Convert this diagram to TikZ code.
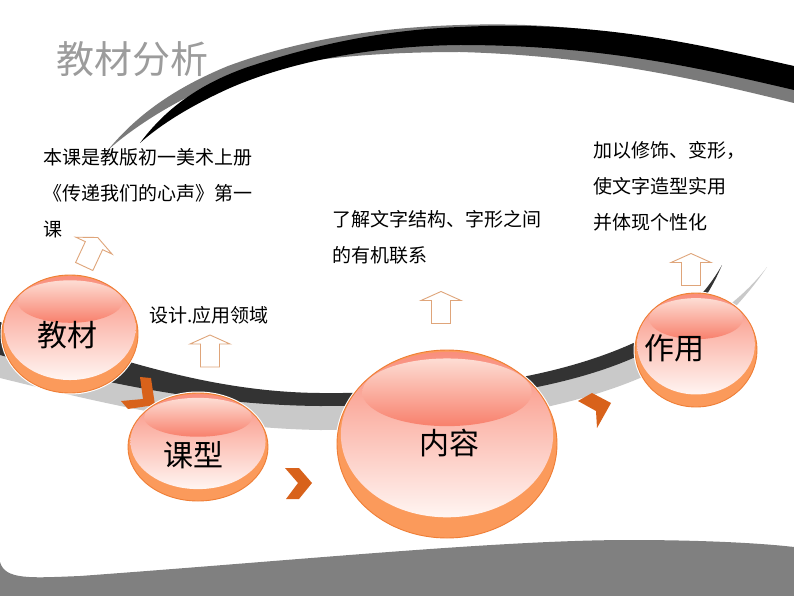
\documentclass[tikz,border=0pt]{standalone}
\usepackage{fontspec}
\newfontfamily\cjk{Noto Sans CJK SC}
\definecolor{rimorange}{HTML}{EF7E36}
\definecolor{crescent}{HTML}{FB9A5B}
\definecolor{salmon}{HTML}{F8806C}
\definecolor{pinklight}{HTML}{FDDDD4}
\definecolor{pinktop}{HTML}{F98E7C}
\definecolor{pinkmid}{HTML}{FBC4B7}
\definecolor{pinkwhite}{HTML}{FFF5F2}
\definecolor{chev}{HTML}{D8621B}
\definecolor{arrowline}{HTML}{DFA57A}
\definecolor{darkband}{HTML}{333333}
\definecolor{lightband}{HTML}{C9C9C9}
\definecolor{wavegray}{HTML}{808080}
\definecolor{ribbongray}{HTML}{7A7A7A}
\definecolor{titlegray}{HTML}{9C9C9C}
\tikzset{
  body/.style={anchor=west, inner sep=0pt, font=\cjk\fontsize{19}{19}\selectfont, text=black},
  orblabel/.style={inner sep=0pt, font=\cjk\fontsize{30}{30}\selectfont, text=black},
  hollow/.style={draw=arrowline, line width=0.9pt, fill=white, line join=miter},
  chevron/.style={fill=chev, draw=none},
}
\newcommand\orb[4]{%
  \begin{scope}[shift={(#1,#2)},xscale=#3,yscale=#4]
    \draw[white, line width=3pt] (0,0) circle [radius=1];
    \fill[crescent] (0,0) circle [radius=1];
    \shade[top color=pinktop, middle color=pinkmid, bottom color=pinkwhite] (0,-0.1) ellipse [x radius=0.965, y radius=0.88];
    \shade[top color=pinklight, bottom color=salmon] (0,-0.55) ellipse [x radius=0.77, y radius=0.36];
    \draw[rimorange, line width=0.9pt] (0,0) circle [radius=1];
  \end{scope}}
\newcommand\uparr[3]{%
  \draw[hollow, shift={(#1,#2)}, rotate=#3] (0,-16) -- (20,-7) -- (9.5,-7) -- (9.5,16) -- (-9.5,16) -- (-9.5,-7) -- (-20,-7) -- cycle;}
\begin{document}
\begin{tikzpicture}[x=1pt,y=-1pt]
\useasboundingbox (0,0) rectangle (794,596);
\fill[white] (0,0) rectangle (794,596);

% top ribbon: gray part
\fill[ribbongray] (108,150) .. controls (135,117) and (172,89) .. (228,66)
  .. controls (285,45) and (360,28) .. (460,25)
  .. controls (600,20) and (700,48) .. (794,70) -- (794,103)
  .. controls (700,80) and (600,56) .. (460,52)
  .. controls (380,52) and (300,58) .. (240,75)
  .. controls (180,95) and (130,130) .. (108,150) -- cycle;
% top ribbon: black part
\fill[black] (140,143) .. controls (163,112) and (195,86) .. (245,68)
  .. controls (310,46) and (380,30) .. (460,27)
  .. controls (600,20) and (700,45) .. (794,66) -- (794,90)
  .. controls (700,68) and (600,45) .. (460,45)
  .. controls (370,46) and (290,62) .. (230,88)
  .. controls (190,106) and (160,125) .. (140,143) -- cycle;

% bottom wave
\fill[wavegray] (0,562) .. controls (5,580) and (30,578) .. (80,576)
  .. controls (300,560) and (500,540) .. (630,540)
  .. controls (700,540) and (760,543) .. (794,547) -- (794,596) -- (0,596) -- cycle;

% middle band: light gray
\fill[lightband] (0,345) .. controls (90,370) and (200,398) .. (320,398)
  .. controls (440,398) and (560,385) .. (660,345)
  .. controls (715,322) and (748,292) .. (767,267)
  .. controls (745,300) and (700,350) .. (640,378)
  .. controls (560,412) and (440,430) .. (320,430)
  .. controls (200,428) and (90,400) .. (0,378) -- cycle;
% middle band: dark
\fill[darkband] (0,322) .. controls (100,352) and (200,392) .. (320,393)
  .. controls (450,394) and (560,378) .. (640,340)
  .. controls (680,320) and (705,295) .. (722,265)
  .. controls (705,305) and (680,335) .. (640,355)
  .. controls (560,392) and (440,406) .. (320,406)
  .. controls (200,405) and (90,380) .. (0,355) -- cycle;

% chevrons
\fill[chevron] (140,377) -- (151,378) -- (155,405) -- (128,409) -- (121,401) -- (143,399) -- cycle;
\fill[chevron] (285,468) -- (299,468) -- (312,483) -- (299,499) -- (286,499) -- (298,483) -- cycle;
\fill[chevron] (578,401) -- (592,393) -- (611,403) -- (597,428) -- (596,411) -- cycle;

% spheres
\orb{70}{334}{68}{59}
\orb{198}{447}{70}{54}
\orb{447}{444}{110}{94}
\orb{696}{350}{61}{57}

\node[orblabel] (jiaocai) at (67,335) {教材};
\node[orblabel] (kexing) at (193,455) {课型};
\node[orblabel] (neirong) at (449,443) {内容};
\node[orblabel] (zuoyong) at (674,348) {作用};

% hollow up arrows
\uparr{91}{252}{-25}
\uparr{210}{351}{0}
\uparr{441}{307.5}{0}
\uparr{691}{269.5}{0}

% title
\node[anchor=west, inner sep=0pt, text=titlegray, font=\cjk\fontsize{38}{38}\selectfont] (title) at (56,59) {教材分析};

% texts
\node[body] (t1a) at (43,157) {本课是教版初一美术上册};
\node[body] (t1b) at (43,193) {《传递我们的心声》第一};
\node[body] (t1c) at (43,229) {课};
\node[body] (t2) at (149,315) {设计.应用领域};
\node[body] (t3a) at (332,219) {了解文字结构、字形之间};
\node[body] (t3b) at (332,255) {的有机联系};
\node[body] (t4a) at (593,150) {加以修饰、变形，};
\node[body] (t4b) at (593,186) {使文字造型实用};
\node[body] (t4c) at (593,222) {并体现个性化};
\end{tikzpicture}
\end{document}
